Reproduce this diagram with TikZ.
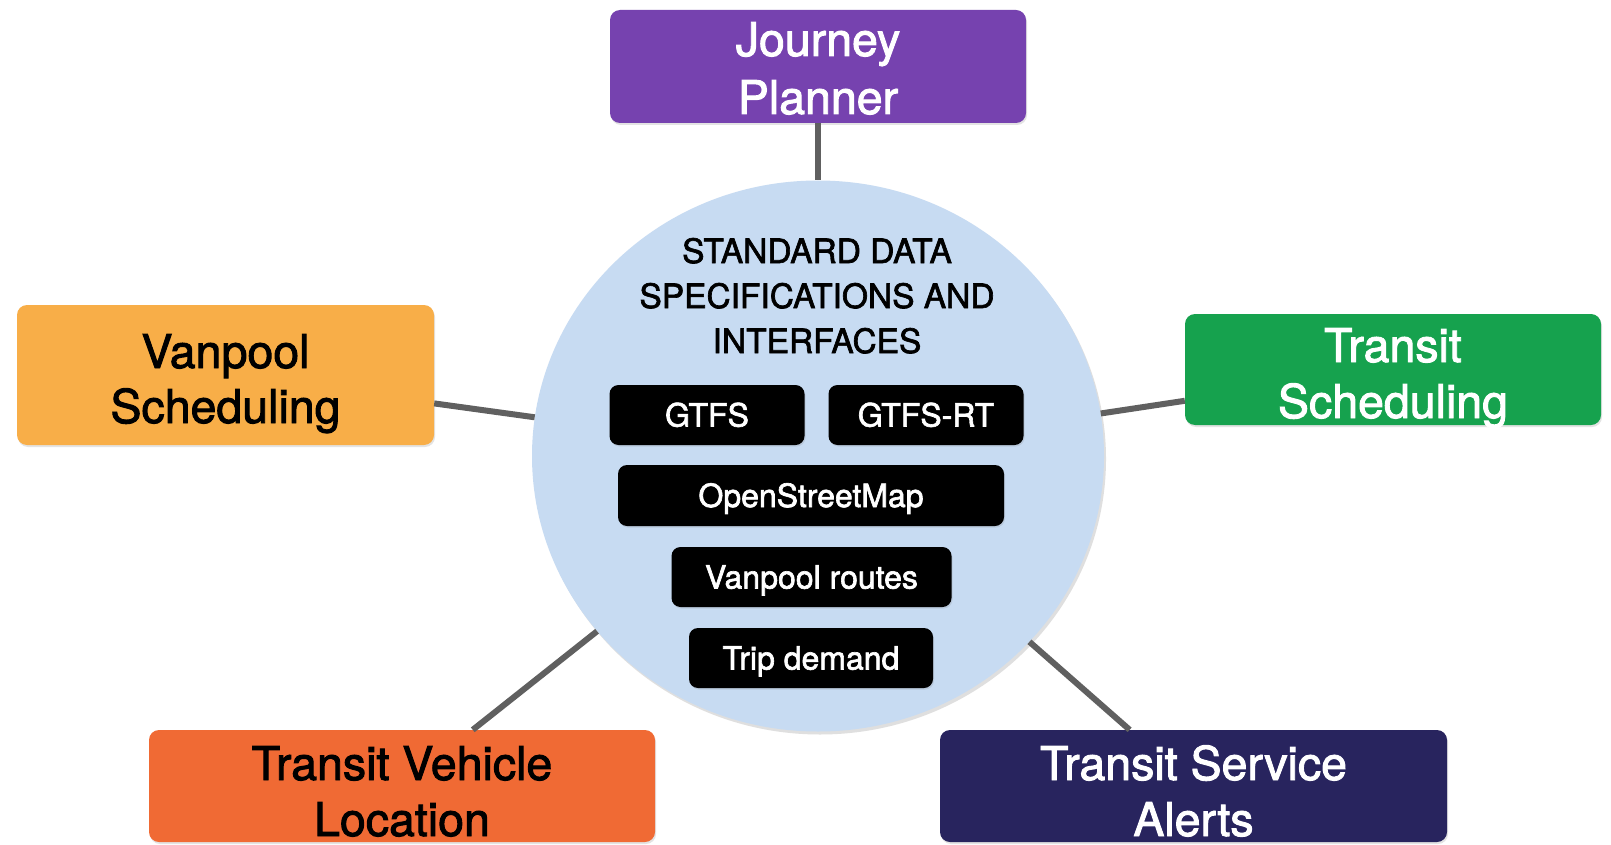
\documentclass[tikz,border=0pt]{standalone}
\usepackage{fontspec}
\setmainfont{TeX Gyre Heros}[FakeBold=2]
\usetikzlibrary{shapes.geometric,shadows}
\definecolor{cpurple}{RGB}{118,66,175}
\definecolor{corange}{RGB}{248,174,72}
\definecolor{cgreen}{RGB}{22,162,78}
\definecolor{cred}{RGB}{240,106,52}
\definecolor{cnavy}{RGB}{40,36,94}
\definecolor{cblue}{RGB}{199,219,242}
\definecolor{cline}{RGB}{96,96,96}
\begin{document}
\begin{tikzpicture}[x=1pt,y=-1pt,
  bigbox/.style={draw=none, rounded corners=10pt, inner sep=0pt,
    drop shadow={opacity=0.22, shadow xshift=1pt, shadow yshift=-2pt}},
  bigtxt/.style={anchor=base, inner sep=0pt, font=\fontsize{46.5}{56}\selectfont},
  titletxt/.style={anchor=base, inner sep=0pt, font=\fontsize{33.5}{45}\selectfont},
  databox/.style={fill=black, rounded corners=9pt, inner sep=0pt, text=white,
    font=\fontsize{32}{40}\selectfont, text height=23pt, text depth=0pt,
    drop shadow={opacity=0.2, shadow xshift=1pt, shadow yshift=-1.5pt}},
  link/.style={line width=6pt, draw=cline}]
\useasboundingbox[fill=white] (0,0) rectangle (1611,845);

% hub
\node[ellipse, fill=cblue, draw=none, minimum width=572pt, minimum height=551pt, inner sep=0pt,
  drop shadow={opacity=0.25, shadow xshift=2pt, shadow yshift=-3pt}] (hub) at (818,456) {};

% outer boxes
\node[bigbox, fill=cpurple, minimum width=416pt, minimum height=113pt] (jp) at (818,66.5) {};
\node[bigbox, fill=corange, minimum width=417pt, minimum height=140pt] (vs) at (225.5,375) {};
\node[bigbox, fill=cgreen, minimum width=416pt, minimum height=111pt] (ts) at (1393,369.5) {};
\node[bigbox, fill=cred, minimum width=506pt, minimum height=112pt] (tvl) at (402,786) {};
\node[bigbox, fill=cnavy, minimum width=507pt, minimum height=112pt] (tsa) at (1193.5,786) {};

% connectors
\draw[link] (jp) -- (hub);
\draw[link] (vs) -- (hub);
\draw[link] (ts) -- (hub);
\draw[link] (tvl) -- (hub);
\draw[link] (tsa) -- (hub);

% outer labels
\node[bigtxt, text=white] (jp1) at (818,56) {Journey};
\node[bigtxt, text=white] (jp2) at (818,114) {Planner};
\node[bigtxt, text=black] (vs1) at (225.5,368) {Vanpool};
\node[bigtxt, text=black] (vs2) at (225.5,423) {Scheduling};
\node[bigtxt, text=white] (ts1) at (1393,362) {Transit};
\node[bigtxt, text=white] (ts2) at (1393,418) {Scheduling};
\node[bigtxt, text=black] (tvl1) at (402,780) {Transit Vehicle};
\node[bigtxt, text=black] (tvl2) at (402,836) {Location};
\node[bigtxt, text=white] (tsa1) at (1193.5,780) {Transit Service};
\node[bigtxt, text=white] (tsa2) at (1193.5,836) {Alerts};

% title
\node[titletxt] (t1) at (817,263) {STANDARD DATA};
\node[titletxt] (t2) at (817,308) {SPECIFICATIONS AND};
\node[titletxt] (t3) at (817,353) {INTERFACES};

% data boxes
\node[databox, minimum width=195pt, minimum height=60pt] (gtfs) at (707,415) {GTFS};
\node[databox, minimum width=195pt, minimum height=60pt] (gtfsrt) at (926,415) {GTFS-RT};
\node[databox, minimum width=386pt, minimum height=61pt] (osm) at (811,495.5) {OpenStreetMap};
\node[databox, minimum width=280pt, minimum height=60pt] (vr) at (811.5,577) {Vanpool routes};
\node[databox, minimum width=244pt, minimum height=60pt] (td) at (811,658) {Trip demand};
\end{tikzpicture}
\end{document}
